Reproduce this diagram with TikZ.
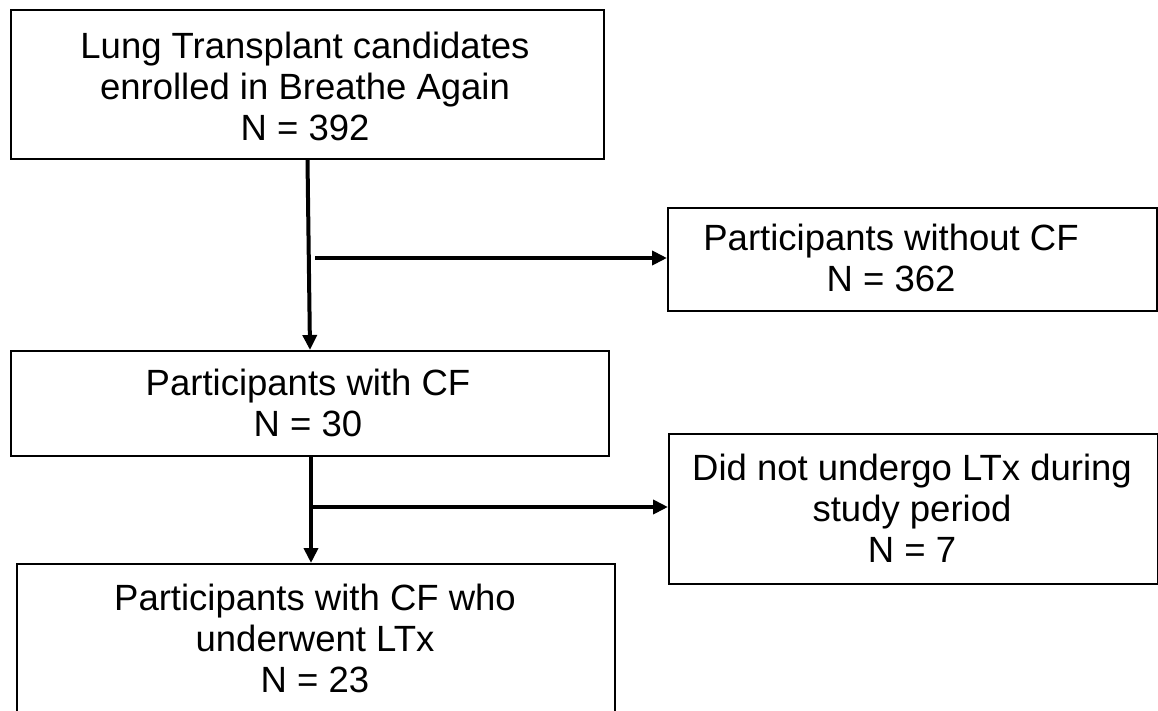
\documentclass[tikz,border=0pt]{standalone}
\usepackage{fontspec}
\setmainfont{Liberation Sans}
\usetikzlibrary{arrows.meta}
\begin{document}
\begin{tikzpicture}[x=1pt,y=-1pt,
  box/.style={draw=black, line width=2pt, inner sep=0pt, anchor=north west},
  txt/.style={align=center, inner sep=0pt, font=\fontsize{36.5}{41}\selectfont},
  arr/.style={line width=4pt, -{Triangle[length=15pt,width=14pt]}}]
\useasboundingbox (0,0) rectangle (1158,711);
\clip (0,0) rectangle (1158,711);
% boxes
\node[box, minimum width=593pt, minimum height=149pt] (b1) at (10,9) {};
\node[box, minimum width=489pt, minimum height=103pt] (b2) at (667,207) {};
\node[box, minimum width=598pt, minimum height=105pt] (b3) at (10,350) {};
\node[box, minimum width=489pt, minimum height=150pt] (b4) at (668,433) {};
\node[box, minimum width=598pt, minimum height=152pt] (b5) at (16,563) {};
% texts
\node[txt] (t1) at (305,86) {Lung Transplant candidates\\enrolled in Breathe Again\\N = 392};
\node[txt] (t2) at (891,258) {Participants without CF\\N = 362};
\node[txt] (t3) at (308,403) {Participants with CF\\N = 30};
\node[txt] (t4) at (912,508) {Did not undergo LTx during\\study period\\N = 7};
\node[txt] (t5) at (315,638) {Participants with CF who\\underwent LTx\\N = 23};
% connectors
\coordinate (s1) at (315,258);
\coordinate (s2) at (311,507);
\draw[arr] (b1.south) -- (b3.north);
\draw[arr] (s1) -- (s1 -| b2.west);
\draw[line width=4pt] (b3.south -| s2) -- (s2);
\draw[arr] (s2) -- (s2 |- b5.north);
\draw[arr] (s2) -- (s2 -| b4.west);
\end{tikzpicture}
\end{document}
